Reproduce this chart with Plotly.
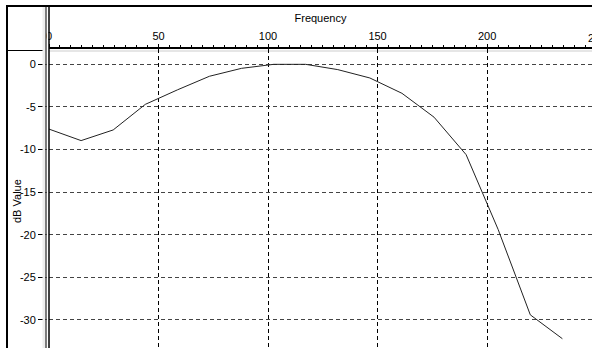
import plotly.graph_objects as go

# Data
frequency = [0, 14.65, 29.3, 43.95, 58.59, 73.24, 87.89, 102.54, 117.19,
             131.84, 146.48, 161.13, 175.78, 190.43, 205.08, 219.73, 234.38]
db_values = [-7.6, -8.95, -7.7, -4.7, -3.0, -1.4, -0.47, 0.0, 0.0,
             -0.62, -1.6, -3.4, -6.2, -10.6, -19.4, -29.4, -32.2]
x_ticks = [0, 50, 100, 150, 200]
y_ticks = [0, -5, -10, -15, -20, -25, -30]

X_RANGE = [0, 247.9]
Y_RANGE = [-33.29, 1.8]

W, H = 592, 348
ML, MT = 49, 49
PW, PH = W - ML, H - MT

FONT = "Liberation Sans, Arial, sans-serif"


def px_x(p):
    return (p - ML) / PW


def px_y(p):
    return (H - p) / PH


fig = go.Figure()
fig.add_trace(go.Scatter(
    x=frequency, y=db_values, mode="lines",
    line=dict(color="#222222", width=1), showlegend=False,
    hoverinfo="x+y",
))

fig.update_layout(
    width=W, height=H,
    margin=dict(l=ML, r=0, t=MT, b=0, pad=0),
    paper_bgcolor="white", plot_bgcolor="white",
    font=dict(family=FONT, size=11, color="black"),
    xaxis=dict(
        side="top", range=X_RANGE, tickvals=x_ticks,
        ticktext=[str(v) for v in x_ticks],
        showgrid=True, gridcolor="black", gridwidth=1, griddash="4px,3px",
        zeroline=False,
        showline=True, linecolor="black", linewidth=2,
        ticks="outside", ticklen=3, tickcolor="black",
        minor=dict(dtick=5, tick0=0, ticks="outside", ticklen=2, tickcolor="black", showgrid=False),
        title=dict(text="Frequency", standoff=5, font=dict(size=11)),
        tickfont=dict(size=11),
        automargin=False, fixedrange=True,
    ),
    yaxis=dict(
        range=Y_RANGE, tickvals=y_ticks,
        ticktext=[str(v) for v in y_ticks],
        showgrid=True, gridcolor="#444444", gridwidth=1, griddash="4px,3px",
        zeroline=False, showline=False,
        ticks="outside", ticklen=10, tickcolor="black",
        tickfont=dict(size=11),
        automargin=False, fixedrange=True,
    ),
)

# y axis title (placed to match the reference position)
fig.add_annotation(
    x=px_x(17), xref="paper", y=px_y(201), yref="paper",
    text="dB Value", textangle=-90, showarrow=False,
    xanchor="center", yanchor="middle", font=dict(size=11),
)

# overflow tick label "250" (partially visible at the right edge, as in the reference)
fig.add_annotation(
    x=(250 - X_RANGE[0]) / (X_RANGE[1] - X_RANGE[0]), xref="paper",
    y=px_y(38), yref="paper", text="250", showarrow=False,
    xanchor="center", yanchor="middle", font=dict(size=11),
)

shapes = [
    # outer frame: top and left
    dict(type="line", xref="paper", yref="paper", x0=px_x(6), x1=px_x(W + 2),
         y0=px_y(6), y1=px_y(6), line=dict(color="black", width=2)),
    dict(type="line", xref="paper", yref="paper", x0=px_x(7), x1=px_x(7),
         y0=px_y(5), y1=px_y(H + 2), line=dict(color="black", width=2)),
    # separator panel left of the plot
    dict(type="rect", xref="paper", yref="paper", x0=px_x(42.5), x1=px_x(45.5),
         y0=px_y(7), y1=px_y(H + 2), fillcolor="#eeeeee", line=dict(width=0)),
    dict(type="rect", xref="paper", yref="paper", x0=px_x(46.5), x1=px_x(48.5),
         y0=px_y(7), y1=px_y(H + 2), fillcolor="white", line=dict(width=0)),
    dict(type="line", xref="paper", yref="paper", x0=px_x(46), x1=px_x(46),
         y0=px_y(7), y1=px_y(H + 2), line=dict(color="black", width=1)),
    dict(type="line", xref="paper", yref="paper", x0=px_x(49), x1=px_x(49),
         y0=px_y(7), y1=px_y(H + 2), line=dict(color="black", width=1.5)),
    # horizontal line left of the x axis
    dict(type="line", xref="paper", yref="paper", x0=px_x(7), x1=px_x(42.5),
         y0=px_y(50.5), y1=px_y(50.5), line=dict(color="black", width=1)),
    # light shadow under the x axis line
    dict(type="rect", xref="paper", yref="paper", x0=px_x(49.5), x1=px_x(W + 2),
         y0=px_y(50), y1=px_y(52), fillcolor="#e6e6e6", line=dict(width=0),
         layer="below"),
]
fig.update_layout(shapes=shapes)

fig.write_html(
    "out.html",
    config=dict(displayModeBar=False),
    post_script="document.body.style.margin='0';document.body.style.overflow='hidden';",
)
